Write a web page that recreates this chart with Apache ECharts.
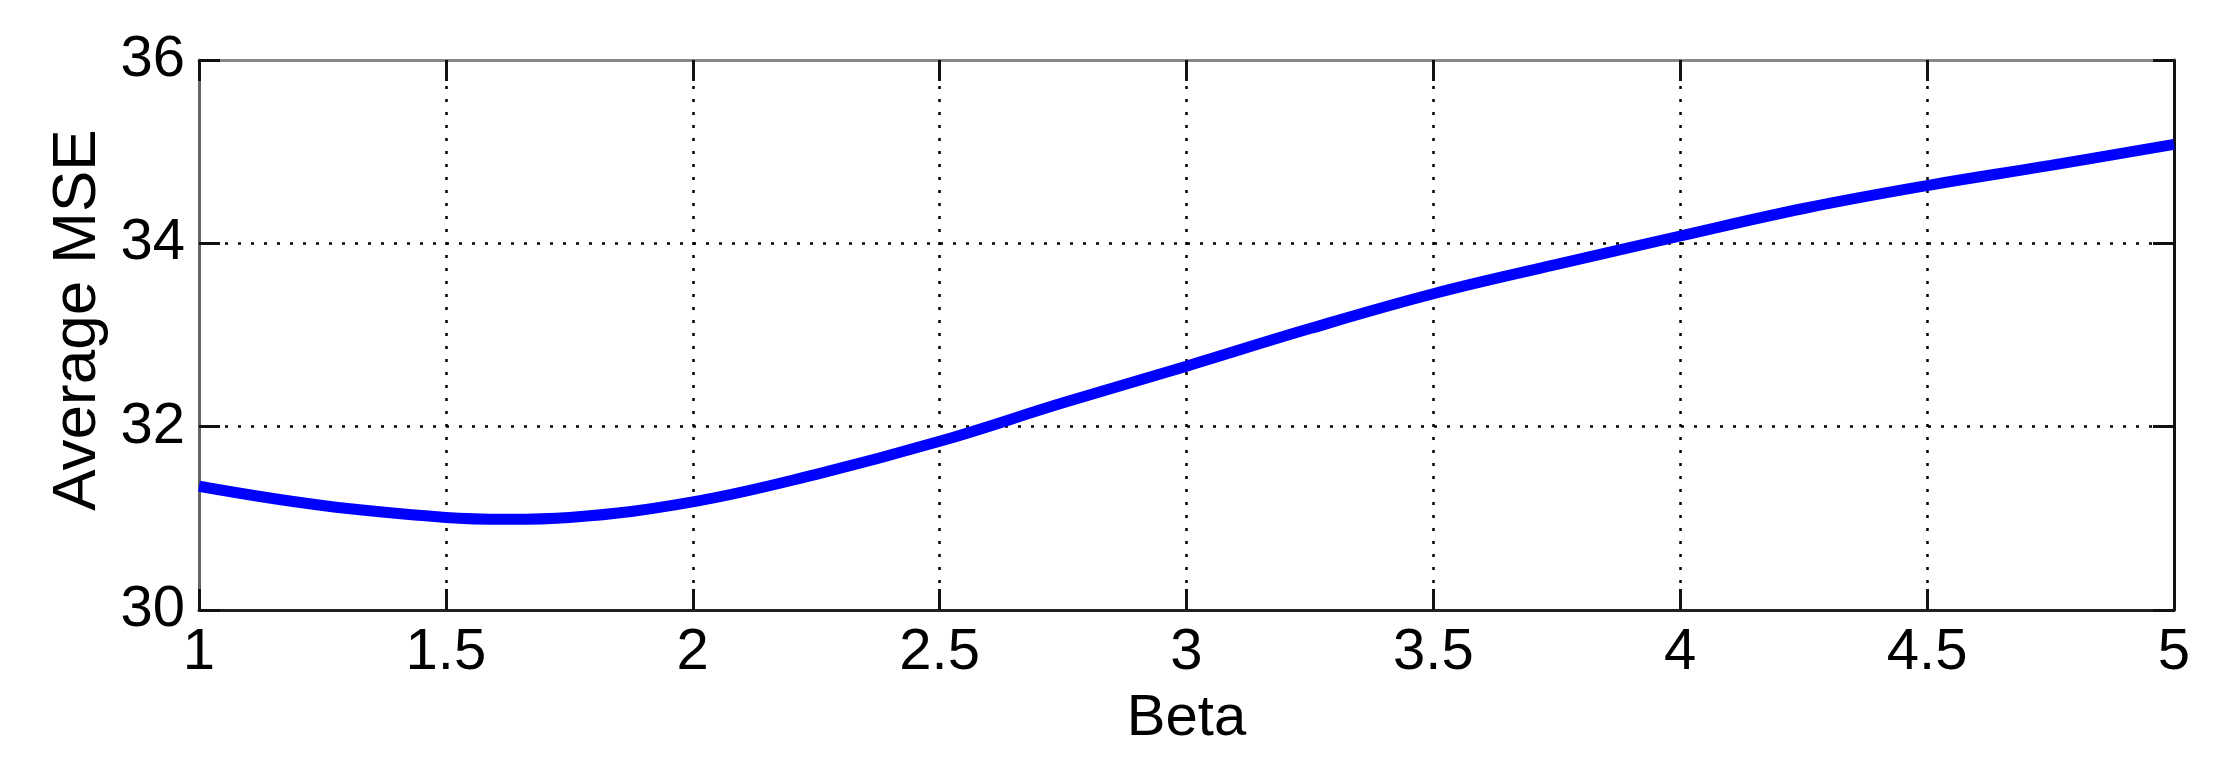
<!DOCTYPE html>
<html>
<head>
<meta charset="utf-8">
<title>Average MSE vs Beta</title>
<script src="https://cdn.jsdelivr.net/npm/echarts@6/dist/echarts.min.js"></script>
<style>
	html, body { margin: 0; padding: 0; background: #fff; }
	#chart { width: 2229px; height: 772px; }
</style>
</head>
<body>
<div id="chart"></div>
<script>
// values
var betaValues = [1.0, 1.25, 1.5, 1.625, 1.75, 2.0, 2.25, 2.5, 2.75, 3.0, 3.25, 3.5, 3.75, 4.0, 4.25, 4.5, 4.75, 5.0];
var mseValues = [31.35, 31.14, 31.01, 30.99, 31.01, 31.18, 31.48, 31.84, 32.26, 32.66, 33.07, 33.45, 33.77, 34.08, 34.38, 34.63, 34.85, 35.08];
var xTicks = [1, 1.5, 2, 2.5, 3, 3.5, 4, 4.5, 5];
var yTicks = [30, 32, 34, 36];

var chart = echarts.init(document.getElementById('chart'));

var points = [];
for (var i = 0; i < betaValues.length; i++) {
	points.push([betaValues[i], mseValues[i]]);
}

var font = 'Liberation Sans, Arial, sans-serif';
// dotted grid like matlab's "grid on"
var gridDots = { show: true, lineStyle: { color: '#000', width: 2.5, type: [3, 10] } };
var tickIn = { show: true, inside: true, length: 21, lineStyle: { color: '#111', width: 3 } };

var option = {
	animation: false,
	grid: { left: 199, right: 55, top: 60, bottom: 162 },
	xAxis: [
		{
			type: 'value', min: xTicks[0], max: xTicks[xTicks.length - 1], interval: 0.5,
			name: 'Beta', nameLocation: 'middle', nameGap: 80,
			nameTextStyle: { fontFamily: font, fontSize: 58, color: '#000' },
			axisLine: { show: true, lineStyle: { color: '#222', width: 3 } },
			axisTick: tickIn,
			axisLabel: { fontFamily: font, fontSize: 58, color: '#000', margin: 14 },
			splitLine: gridDots
		},
		{
			// top border with mirrored ticks
			type: 'value', position: 'top', min: 1, max: 5, interval: 0.5,
			axisLine: { show: true, lineStyle: { color: '#888', width: 3 } },
			axisTick: tickIn,
			axisLabel: { show: false },
			splitLine: { show: false }
		}
	],
	yAxis: [
		{
			type: 'value', min: yTicks[0], max: yTicks[yTicks.length - 1], interval: 2,
			name: 'Average MSE', nameLocation: 'middle', nameGap: 90,
			nameTextStyle: { fontFamily: font, fontSize: 62, color: '#000', padding: [0, 0, 0, 30] },
			axisLine: { show: true, lineStyle: { color: '#666', width: 3 } },
			axisTick: tickIn,
			axisLabel: { fontFamily: font, fontSize: 58, color: '#000', margin: 14 },
			splitLine: gridDots
		},
		{
			// right border
			type: 'value', position: 'right', min: 30, max: 36, interval: 2,
			axisLine: { show: true, lineStyle: { color: '#111', width: 3 } },
			axisTick: tickIn,
			axisLabel: { show: false },
			splitLine: { show: false }
		}
	],
	series: [
		{
			type: 'line',
			data: points,
			smooth: 0.4,
			showSymbol: false,
			lineStyle: { color: '#0000ff', width: 11 },
			z: 5
		}
	]
};

chart.setOption(option);
</script>
</body>
</html>
